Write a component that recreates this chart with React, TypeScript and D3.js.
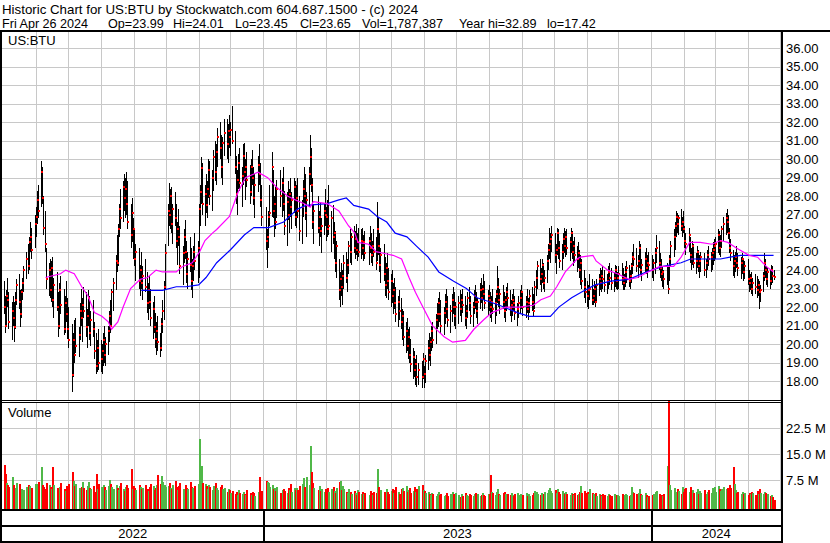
import * as d3 from "d3";

// [high, low, close] per trading day
const prices2022: number[][] = [
  // May
  [23.4,21.6,22.0],[22.6,20.6,21.0],[22.9,21.0,22.6],[23.6,22.0,22.4],[22.8,20.8,21.2],[22.3,20.2,21.8],[22.6,21.0,21.4],[22.3,20.1,20.9],[22.8,20.8,22.4],[23.5,22.1,23.2],[23.8,21.9,22.3],[22.9,20.9,21.6],[23.0,21.4,22.8],[23.6,22.4,23.3],[24.2,22.8,24.0],[25.0,23.5,24.6],[25.4,23.8,24.2],[25.8,24.0,25.5],[26.6,25.0,25.8],[26.3,24.6,25.1],[27.0,25.2,26.5],
  // Jun
  [27.4,25.8,26.9],[28.3,26.5,27.8],[28.6,26.8,27.2],[29.9,27.4,29.3],[29.6,27.6,27.9],[28.0,25.9,26.3],[27.2,25.0,25.4],[25.2,23.0,23.5],[24.4,22.6,24.0],[24.6,22.5,22.9],[24.5,22.3,24.1],[24.7,22.0,22.4],[23.6,21.4,23.2],[23.9,21.8,22.0],[22.8,20.4,21.0],[23.3,20.8,22.9],[23.7,21.6,22.1],[23.0,20.5,20.8],[22.6,20.6,22.2],[23.4,21.2,21.6],[22.5,20.3,20.8],
  // Jul
  [22.0,19.8,20.2],[21.1,17.4,18.3],[20.6,18.2,20.2],[21.3,19.0,19.4],[21.4,19.5,19.9],[20.9,19.3,20.5],[22.2,20.2,21.8],[23.0,21.0,21.4],[22.5,20.1,22.1],[23.1,21.4,21.8],[22.8,20.4,20.9],[21.9,19.8,21.5],[22.9,21.0,22.5],[22.6,20.2,20.6],[21.8,19.9,21.3],[22.4,20.4,20.8],[21.2,19.2,19.6],[20.6,18.4,18.8],[20.2,18.5,19.8],[20.8,18.6,19.0],
  // Aug
  [20.2,18.5,19.2],[20.0,18.4,19.6],[20.6,18.8,20.2],[21.0,19.0,19.4],[20.4,18.8,20.0],[21.0,19.4,20.7],[21.8,20.1,21.5],[22.4,20.6,21.0],[23.0,20.9,22.8],[23.6,21.8,23.3],[24.8,22.9,24.5],[25.9,23.9,24.4],[26.5,24.2,26.2],[27.6,25.8,27.3],[28.4,26.2,26.8],[28.8,26.6,28.5],[29.2,27.2,27.9],[29.0,26.8,28.4],[29.3,27.0,27.6],[28.8,26.2,26.6],[27.6,25.2,25.9],[27.9,25.5,27.1],[26.8,24.6,26.2],
  // Sep
  [26.2,24.2,24.6],[25.4,23.4,25.0],[25.2,23.0,23.4],[24.3,22.6,24.0],[25.0,23.0,23.3],[24.2,22.4,23.7],[24.6,22.8,23.1],[23.9,21.7,22.2],[23.3,21.3,22.9],[23.7,21.9,22.3],[23.0,21.0,21.4],[22.3,20.3,21.9],[22.6,20.6,20.9],[21.7,19.8,20.3],[21.2,19.4,20.7],[21.5,19.6,20.1],[20.6,19.3,19.8],[21.4,19.6,21.1],[22.4,20.6,21.8],[23.4,21.3,23.1],[25.4,23.0,24.9],
  // Oct
  [27.6,25.3,27.2],[28.7,26.4,27.0],[28.4,26.2,28.0],[28.5,26.0,26.5],[27.6,25.4,27.3],[28.2,26.4,26.8],[27.6,25.2,25.6],[26.6,24.3,26.2],[27.3,25.3,25.8],[26.4,23.8,24.2],[25.3,23.2,24.9],[26.2,24.4,25.8],[26.7,24.6,25.0],[25.6,23.3,23.8],[25.0,23.0,24.6],[25.8,23.9,24.3],[25.2,22.9,23.4],[24.6,22.5,24.2],[25.3,23.4,25.0],[26.0,24.0,24.5],[25.6,23.3,25.2],
  // Nov
  [27.6,23.6,27.3],[28.6,26.4,28.2],[30.1,27.6,29.5],[29.8,27.0,27.6],[28.6,26.4,28.1],[29.2,27.1,27.5],[28.8,26.8,28.4],[30.0,27.9,29.4],[29.9,27.5,28.0],[29.4,27.2,29.0],[30.5,28.3,30.1],[31.0,28.8,29.3],[30.8,28.6,30.4],[31.7,29.6,31.2],[32.0,30.0,30.6],[31.3,29.0,29.6],[31.2,28.6,30.9],[32.2,30.2,31.4],[32.2,30.0,30.8],[31.9,29.8,31.5],[32.4,30.6,31.2],
  // Dec
  [32.0,30.2,31.6],[32.9,30.8,31.0],[31.5,29.2,29.6],[30.2,27.6,28.1],[29.4,27.0,28.9],[30.3,28.4,29.8],[30.6,28.3,28.7],[29.6,27.4,29.1],[30.8,28.6,30.2],[30.9,28.8,29.3],[30.0,27.8,29.6],[30.4,28.5,28.9],[29.7,27.6,28.2],[30.0,28.0,29.6],[30.5,28.6,29.0],[29.6,27.5,27.9],[29.2,26.8,28.6],[30.2,28.2,29.7],[30.8,28.6,29.2],[29.8,27.4,27.8],[28.6,26.4,26.9],
];

const prices2023: number[][] = [
  // Jan
  [27.4,25.1,25.6],[26.2,24.1,25.8],[27.2,25.2,26.9],[28.6,26.4,27.1],[30.4,26.9,29.6],[29.4,26.8,27.2],[28.0,25.8,27.6],[28.5,26.2,26.6],[28.9,26.8,28.4],[29.4,27.4,28.0],[29.0,26.9,28.7],[29.6,27.2,27.6],[28.3,25.9,26.4],[28.2,25.3,27.7],[28.8,26.7,27.0],[28.4,26.0,28.1],[29.0,26.9,27.4],[28.2,26.2,27.8],[29.0,27.1,28.5],[28.8,26.4,26.9],
  // Feb
  [28.6,26.3,27.9],[29.0,26.8,27.2],[28.0,25.6,26.1],[27.8,25.4,27.4],[28.9,26.9,28.4],[29.6,27.6,28.0],[29.2,26.7,27.1],[28.2,25.8,27.8],[29.6,27.4,29.2],[31.3,28.6,30.1],[30.6,28.2,28.6],[29.0,26.2,26.6],[27.6,25.4,27.2],[28.0,26.0,26.3],[27.2,25.3,26.9],[27.7,25.8,26.1],[26.8,24.9,26.4],[27.6,25.9,27.2],[28.4,26.4,27.0],
  // Mar
  [27.4,25.6,26.9],[27.8,25.8,26.2],[28.6,25.9,26.4],[27.2,25.0,26.8],[27.5,25.4,25.8],[26.6,24.6,26.0],[26.1,23.9,24.4],[25.6,23.6,25.3],[24.6,22.4,22.9],[23.9,22.0,23.5],[24.4,22.6,23.1],[24.0,22.1,23.7],[24.8,23.0,24.4],[25.0,23.3,23.6],[24.6,22.8,24.3],[25.6,23.8,25.3],[26.2,24.4,25.0],[26.0,24.3,25.8],[26.4,24.9,25.2],[26.1,24.6,25.7],[26.5,24.8,25.1],[26.0,24.5,25.5],[26.3,24.7,25.0],
  // Apr
  [26.2,24.6,25.6],[26.3,24.8,25.2],[25.9,24.5,25.5],[26.1,24.6,24.9],[25.8,24.3,25.6],[26.4,24.9,25.2],[26.0,24.4,24.8],[25.6,24.2,25.3],[26.2,24.7,25.0],[25.8,24.0,24.4],[27.7,24.5,26.2],[26.8,24.8,25.3],[26.0,23.9,24.3],[25.2,23.3,24.8],[25.4,23.4,23.8],[24.7,22.6,23.2],[24.4,22.5,24.1],[24.9,23.0,23.4],[24.1,22.4,22.8],
  // May
  [23.8,22.0,23.4],[24.0,22.2,22.6],[23.3,21.6,22.9],[23.6,21.9,22.2],[23.1,21.2,21.6],[22.6,20.9,22.3],[22.9,21.3,21.8],[22.5,20.8,21.2],[21.9,20.2,21.5],[21.8,19.9,20.4],[21.2,19.5,20.7],[21.4,19.6,19.9],[20.8,19.2,20.4],[20.9,19.0,19.4],[20.3,18.5,18.9],[19.8,18.1,19.3],[19.6,18.2,18.6],[19.2,17.8,18.9],[19.4,17.7,18.2],[19.0,17.8,18.6],[19.1,17.6,18.2],[19.5,18.1,19.2],
  // Jun
  [18.8,17.6,18.4],[19.4,17.9,19.1],[20.2,18.6,19.8],[20.6,19.1,19.4],[20.4,18.8,20.1],[21.0,19.6,20.7],[21.2,19.8,20.2],[21.6,20.0,21.3],[22.2,20.8,21.6],[22.5,20.9,22.2],[22.8,21.2,21.6],[22.4,20.6,21.0],[22.0,20.5,21.7],[22.7,21.1,22.3],[23.0,21.4,21.9],[22.6,20.9,21.3],[22.1,20.6,21.8],[22.7,21.2,22.4],[23.1,21.6,22.0],[22.8,21.0,21.5],[22.3,20.8,22.0],
  // Jul
  [22.6,21.1,22.2],[22.9,21.5,21.9],[22.7,21.2,22.4],[23.0,21.7,22.1],[22.6,21.0,21.4],[22.1,20.8,21.8],[22.8,21.4,22.5],[23.1,21.8,22.2],[22.6,21.1,21.5],[22.3,20.9,22.0],[22.9,21.6,22.6],[23.2,21.9,22.3],[22.8,21.4,21.8],[22.5,21.1,22.3],[23.3,21.9,22.9],[23.6,22.2,22.5],[23.2,21.8,23.0],[23.8,22.4,22.7],[23.4,21.9,22.2],[22.9,21.5,22.6],
  // Aug
  [23.2,21.8,22.4],[22.8,21.4,22.0],[22.6,21.2,22.3],[23.0,21.6,21.9],[22.5,21.1,22.2],[22.9,21.5,22.7],[24.2,22.2,23.1],[23.6,22.0,22.4],[23.0,21.6,22.7],[23.2,21.9,22.3],[22.8,21.4,21.8],[22.6,21.2,22.4],[23.1,21.8,22.8],[23.3,22.0,22.5],[22.9,21.5,21.9],[22.4,21.2,22.1],[22.7,21.5,22.4],[23.0,21.8,22.2],[22.6,21.3,21.7],[22.2,21.0,21.9],[22.6,21.4,22.2],[22.9,21.6,22.5],[23.2,21.9,22.8],
  // Sep
  [22.8,21.5,22.0],[22.6,21.4,22.3],[23.0,21.7,21.9],[22.5,21.3,22.2],[22.9,21.7,22.6],[23.1,21.8,22.3],[22.7,21.5,21.8],[23.4,21.9,23.1],[24.0,22.6,23.6],[24.5,23.0,24.2],[24.6,23.2,23.5],[24.1,22.8,23.8],[24.6,23.3,24.3],[24.4,23.0,23.3],[24.0,22.8,23.6],[24.8,23.3,24.5],[25.4,24.0,25.1],[26.3,24.6,25.4],[26.0,24.4,25.7],[26.4,25.0,25.9],
  // Oct
  [26.0,24.4,24.8],[25.4,23.8,25.1],[26.3,24.8,26.0],[26.2,24.6,25.2],[25.6,24.1,24.5],[25.4,24.0,25.0],[26.0,24.6,25.7],[26.3,24.9,25.3],[26.1,24.7,25.8],[26.2,24.8,25.2],[25.8,24.5,25.5],[26.3,24.9,26.0],[26.1,24.6,25.0],[25.6,24.2,25.3],[25.8,24.4,24.8],[25.3,23.9,24.6],[25.5,24.1,24.9],[25.1,23.6,24.0],[24.8,23.2,24.4],[24.6,23.0,23.4],[24.0,22.5,23.1],[23.6,22.2,22.8],
  // Nov
  [23.4,22.0,22.6],[23.2,21.9,22.9],[23.8,22.4,23.0],[23.5,22.1,22.4],[23.0,22.1,22.6],[23.4,22.2,23.0],[23.2,22.0,22.3],[23.5,22.3,23.2],[23.8,22.6,23.5],[24.1,22.9,23.3],[24.0,22.8,23.7],[24.2,23.0,23.5],[24.0,22.8,23.2],[23.8,22.7,23.4],[24.2,23.0,23.9],[24.4,23.2,23.6],[24.1,22.9,23.3],[23.9,22.8,23.6],[24.3,23.1,24.0],[24.2,23.0,23.4],[23.9,22.9,23.6],
  // Dec
  [24.2,23.0,23.8],[24.4,23.2,23.5],[24.1,22.9,23.3],[23.8,22.9,23.6],[24.2,23.1,23.9],[24.5,23.3,24.1],[24.3,23.1,23.4],[24.0,23.0,23.7],[24.4,23.3,24.2],[25.0,23.8,24.7],[25.4,24.2,24.6],[25.2,23.9,24.2],[24.8,23.6,24.5],[25.6,24.1,25.2],[25.4,23.8,24.0],[24.6,23.4,24.3],[25.0,23.9,24.6],[25.2,23.8,24.1],[24.8,23.6,24.4],[25.0,23.9,24.3],
];

const prices2024: number[][] = [
  // Jan
  [24.8,23.6,24.0],[24.6,23.4,24.4],[25.2,23.8,24.9],[25.9,24.4,25.2],[25.6,24.0,24.4],[24.9,23.6,24.1],[24.6,23.4,23.8],[24.2,23.1,23.9],[24.0,23.0,23.5],[24.4,23.2,24.2],[24.3,22.7,23.0],[24.8,23.4,24.6],[25.6,24.2,25.3],[26.2,24.7,25.8],[26.6,25.1,26.4],[27.2,25.8,26.9],[27.1,26.0,26.5],[27.0,25.9,26.8],[27.3,26.1,26.4],[26.9,25.8,26.6],[27.2,26.0,26.2],
  // Feb
  [26.4,25.2,25.6],[26.0,24.8,25.4],[26.3,25.0,25.9],[25.8,24.4,24.8],[25.2,24.0,24.6],[25.6,24.3,25.3],[25.4,24.1,24.4],[24.9,23.8,24.5],[25.3,24.1,25.0],[25.1,23.9,24.2],[24.8,23.6,24.5],[25.0,23.9,24.7],[24.9,23.7,24.0],[24.6,23.6,24.4],[25.1,24.0,24.8],[25.3,24.2,24.6],[25.0,23.9,24.7],[25.2,24.0,24.9],[25.5,24.3,25.1],[25.7,24.5,25.3],
  // Mar
  [25.8,24.6,25.4],[26.2,24.9,25.9],[26.1,24.8,25.2],[25.9,24.7,25.6],[26.4,25.2,26.2],[26.9,25.6,26.5],[27.1,25.9,26.8],[27.3,26.0,26.6],[27.0,25.7,26.0],[26.3,24.9,25.2],[25.7,24.5,24.9],[25.1,23.7,24.2],[24.8,23.6,24.5],[25.0,23.9,24.7],[25.3,24.1,24.4],[24.9,23.7,24.1],[24.7,23.5,24.4],[24.9,23.8,24.6],[24.6,23.4,23.9],[24.5,23.5,24.2],
  // Apr
  [24.6,23.2,23.5],[24.0,22.8,23.3],[23.8,22.9,23.6],[23.9,22.7,23.0],[23.6,22.6,23.3],[23.8,22.7,23.1],[23.7,22.5,22.9],[23.5,22.6,23.2],[23.4,21.9,22.8],[23.2,22.3,22.9],[23.9,22.8,23.7],[24.9,23.4,24.4],[24.6,23.6,24.0],[24.2,23.2,23.5],[24.1,23.1,23.9],[24.0,23.0,23.4],[24.3,23.2,24.0],[24.2,23.3,23.7],[24.01,23.45,23.65],
];

// daily volume, millions of shares
const volume2022 = [
  12.0,9.2,6.8,6.2,5.4,8.3,6.0,4.8,5.2,6.6,6.5,4.4,5.0,3.9,4.6,5.5,6.1,5.8,4.7,5.1,6.3,
  5.8,6.4,7.0,11.4,6.2,5.5,4.9,6.8,6.0,5.4,4.8,11.4,6.1,5.2,4.5,5.6,6.6,5.0,4.4,5.9,5.3,
  6.3,10.0,7.2,5.8,6.4,5.1,4.7,5.5,6.9,5.2,4.6,5.9,7.0,5.3,4.8,5.7,4.2,9.4,5.0,6.4,
  5.6,4.9,6.2,5.4,4.6,5.9,7.6,6.3,5.5,4.8,6.0,5.3,4.7,5.8,6.7,5.0,4.4,5.6,6.1,5.2,10.6,4.9,5.7,
  5.1,4.5,6.0,5.6,4.8,5.3,6.2,5.0,4.3,5.5,6.4,5.8,4.7,5.2,6.0,9.0,6.3,8.8,7.1,6.2,5.4,
  5.9,6.6,5.2,4.8,6.1,7.3,5.5,4.6,5.8,6.8,5.0,4.5,6.2,5.3,4.9,6.9,5.6,5.1,4.4,5.8,6.3,
  19.4,8.6,11.7,6.8,6.4,5.7,4.9,6.2,5.4,4.7,5.8,6.6,5.1,4.5,5.6,6.0,4.8,5.3,4.2,5.0,4.6,
  3.8,4.4,3.5,4.0,3.2,4.6,3.9,3.4,4.2,3.6,3.1,4.5,3.8,3.3,4.1,3.7,3.0,4.0,8.3,3.5,4.3,
];
const volume2023 = [
  7.2,7.0,6.8,5.4,6.1,4.8,5.2,4.4,5.6,3.9,4.7,5.0,4.3,3.8,5.1,4.6,6.4,4.0,5.3,4.5,
  5.2,4.6,5.8,6.3,8.0,5.5,4.9,8.5,6.1,17.5,9.8,6.6,5.3,4.7,5.9,4.4,5.0,4.2,4.8,
  4.6,5.3,4.0,4.9,5.6,4.3,3.8,5.1,7.0,7.2,4.5,5.8,5.0,4.2,3.7,4.8,4.1,3.5,4.4,3.9,3.3,4.6,4.0,
  3.6,4.2,3.4,3.9,3.1,4.4,3.8,3.3,4.0,3.7,10.6,5.6,4.1,4.6,4.2,3.5,4.9,4.0,3.6,
  4.4,5.0,3.9,4.6,5.4,4.1,3.6,4.8,5.2,4.3,5.7,4.0,4.6,5.1,3.8,4.4,5.5,4.2,4.9,5.8,6.2,4.7,
  4.3,3.8,4.1,3.5,3.2,3.9,3.4,2.9,3.6,4.0,3.1,3.5,2.8,3.3,3.7,3.0,3.4,4.2,3.6,3.1,3.8,
  3.2,2.7,3.5,3.0,3.8,3.3,2.9,3.6,3.1,2.8,3.4,3.9,3.0,3.5,2.9,3.3,3.7,3.1,2.8,3.4,
  3.6,9.0,4.2,3.8,3.3,4.0,5.0,3.5,3.1,3.7,4.1,3.4,3.0,3.6,3.2,3.9,3.3,2.9,3.5,3.8,3.1,3.4,3.0,
  3.3,3.7,3.0,3.5,2.9,3.2,3.8,4.4,4.0,3.6,3.3,3.9,3.1,3.5,4.1,3.7,4.6,5.2,4.3,3.8,
  4.5,3.9,4.8,4.1,3.6,4.3,3.8,3.4,4.0,3.5,3.2,3.9,3.6,3.3,3.8,3.1,3.5,4.2,5.7,3.7,4.4,3.9,
  4.1,3.6,5.0,3.8,3.4,3.2,3.7,3.0,3.5,3.3,2.9,3.4,3.1,2.8,3.6,3.2,3.0,3.5,2.9,3.3,3.1,
  3.0,3.4,2.8,3.2,3.6,3.1,2.9,3.3,5.6,4.1,3.7,3.4,3.9,4.8,3.5,3.2,3.8,3.3,2.6,3.0,
];
const volume2024 = [
  3.2,3.6,4.0,4.4,3.5,3.0,3.3,2.9,3.4,11.7,30.7,6.0,4.6,5.2,4.1,3.8,4.9,4.3,3.6,5.5,4.0,
  4.8,5.3,4.2,5.6,3.9,4.5,3.7,4.1,5.0,3.6,4.4,3.8,4.7,3.5,4.0,4.6,3.9,5.1,4.3,5.4,
  4.2,5.7,4.9,4.4,5.0,5.6,4.8,5.3,4.6,6.2,5.1,11.4,6.3,4.5,3.9,4.2,3.6,4.0,3.4,3.8,
  3.3,3.9,3.5,4.1,3.7,3.2,4.4,3.6,4.9,3.8,3.4,4.2,3.7,3.1,3.5,2.9,3.3,2.7,1.8,
];

// moving averages as drawn: [bar index, value]
const maShort: number[][] = [
  [28,23.6],[37,23.8],[40,24.0],[45,23.8],[50,23.1],[54,22.6],[58,21.7],[63,21.5],[67,21.2],[70,20.8],[74,21.2],[77,22.0],[82,23.0],[88,23.5],[93,23.6],[99,24.0],[103,23.9],[112,23.9],[116,24.2],[123,24.4],[128,25.0],[131,25.6],[136,26.0],[140,26.2],[147,26.9],[153,28.2],[158,29.0],[165,29.3],[171,29.0],[177,28.5],[183,28.0],[188,27.8],[194,27.6],[198,27.4],[201,27.7],[209,27.6],[216,27.2],[223,26.4],[227,26.0],[230,25.5],[235,25.4],[240,25.0],[246,24.9],[252,24.8],[258,24.6],[263,23.6],[267,22.8],[271,22.0],[278,21.0],[284,20.4],[290,20.1],[297,20.2],[303,20.8],[310,21.3],[316,21.7],[325,22.0],[334,22.0],[342,22.1],[347,22.4],[354,22.6],[358,23.1],[364,23.9],[371,24.6],[374,24.7],[382,24.8],[385,24.5],[392,24.0],[398,23.8],[405,23.5],[411,23.6],[418,23.9],[424,24.2],[432,24.2],[437,24.7],[443,25.5],[451,25.5],[457,25.4],[463,25.6],[468,25.5],[474,25.2],[481,24.8],[487,24.7],[493,24.2],[498,23.9],
];
const maLong: number[][] = [
  [89,22.9],[103,22.9],[112,23.1],[119,23.1],[127,23.2],[132,23.6],[140,24.4],[148,25.1],[157,25.9],[164,26.3],[172,26.3],[181,26.6],[190,27.3],[196,27.5],[209,27.6],[216,27.8],[221,27.9],[226,27.5],[235,27.3],[241,26.9],[248,26.6],[254,26.0],[261,25.8],[268,25.3],[274,24.7],[282,23.9],[291,23.4],[298,23.0],[306,22.5],[313,22.3],[321,22.1],[332,21.7],[340,21.5],[354,21.5],[360,22.0],[368,22.5],[375,22.8],[384,23.2],[394,23.4],[405,23.5],[416,23.9],[427,24.2],[437,24.4],[444,24.6],[455,24.6],[463,24.6],[470,24.7],[476,24.8],[485,24.8],[498,24.8],
];

const holidays = [
  "2022-05-30","2022-06-20","2022-07-04","2022-09-05","2022-11-24","2022-12-26",
  "2023-01-02","2023-01-16","2023-02-20","2023-04-07","2023-05-29","2023-06-19","2023-07-04","2023-09-04","2023-11-23","2023-12-25",
  "2024-01-01","2024-01-15","2024-02-19","2024-03-29",
];

const priceTicks = [18,19,20,21,22,23,24,25,26,27,28,29,30,31,32,33,34,35,36];
const volumeTicks = [7.5, 15, 22.5];
const years = ["2022", "2023", "2024"];

const font = "'Liberation Sans', Arial, sans-serif";
const gridColor = "#c8c8c8";

function tradingDays(): Date[] {
  const fmt = d3.timeFormat("%Y-%m-%d");
  const hol = new Set(holidays);
  const out: Date[] = [];
  const d = new Date(2022, 4, 2);
  const end = new Date(2024, 3, 26);
  while (d <= end) {
    const wd = d.getDay();
    if (wd !== 0 && wd !== 6 && !hol.has(fmt(d))) out.push(new Date(d));
    d.setDate(d.getDate() + 1);
  }
  return out;
}

export default function App() {
  const left = 2, right = 781;
  const priceTop = 32, priceBottom = 400;
  const volTop = 403, volBottom = 509;

  const dates = tradingDays();
  const prices = [...prices2022, ...prices2023, ...prices2024];
  const volumes = [...volume2022, ...volume2023, ...volume2024];
  const n = Math.min(dates.length, prices.length, volumes.length);

  const x = d3.scaleTime().domain([new Date(2022, 3, 30), new Date(2024, 4, 2)]).range([left, right]);
  const y = d3.scaleLinear().domain([17, 36]).range([399.5, 48.3]);
  const yv = d3.scaleLinear().domain([0, 30]).range([506, 402.6]);

  const months = d3.timeMonth.range(new Date(2022, 4, 2), new Date(2024, 4, 2));
  const yearBounds = [x.range()[0], x(new Date(2023, 0, 1)), x(new Date(2024, 0, 1)), right];

  const bx = (i: number) => Math.round(x(dates[i]));

  const line = d3
    .line<number[]>()
    .x((d) => x(dates[d[0]]))
    .y((d) => y(d[1]));

  const volColor = (i: number) => {
    if (i === 0) return "#ff0000";
    const diff = prices[i][2] - prices[i - 1][2];
    if (Math.abs(diff) < 0.001) return "#a0a0a0";
    return diff > 0 ? "#50b848" : "#ff0000";
  };

  return (
    <svg
      width={830}
      height={543}
      style={{ position: "fixed", left: 0, top: 0, display: "block", background: "#fff" }}
      fontFamily={font}
    >
      <rect x={0} y={0} width={830} height={543} fill="#fff" />

      {/* header */}
      <text x={2} y={13.5} fontSize={13.3} fill="#000">
        Historic Chart for US:BTU by Stockwatch.com 604.687.1500 - (c) 2024
      </text>
      <g fontSize={12.6} fill="#000">
        <text x={2} y={28}>Fri Apr 26 2024</text>
        <text x={108} y={28}>Op=23.99</text>
        <text x={173} y={28}>Hi=24.01</text>
        <text x={235} y={28}>Lo=23.45</text>
        <text x={300} y={28}>Cl=23.65</text>
        <text x={362} y={28}>Vol=1,787,387</text>
        <text x={459} y={28}>Year hi=32.89</text>
        <text x={547} y={28}>lo=17.42</text>
      </g>

      {/* grid */}
      <g stroke={gridColor} strokeWidth={1} shapeRendering="crispEdges">
        {priceTicks.map((p) => (
          <line key={"p" + p} x1={left} x2={right} y1={Math.round(y(p)) + 0.5} y2={Math.round(y(p)) + 0.5} />
        ))}
        {volumeTicks.map((v) => (
          <line key={"v" + v} x1={left} x2={right} y1={Math.round(yv(v)) + 0.5} y2={Math.round(yv(v)) + 0.5} />
        ))}
        {months.map((m) => {
          const mx = Math.round(x(m)) + 0.5;
          return (
            <g key={m.getTime()}>
              <line x1={mx} x2={mx} y1={priceTop} y2={priceBottom} />
              <line x1={mx} x2={mx} y1={volTop} y2={volBottom} />
            </g>
          );
        })}
      </g>

      {/* price bars: high-low line with a red close mark */}
      <g shapeRendering="crispEdges">
        {d3.range(n).map((i) => {
          const [hi, lo] = prices[i];
          const top = Math.round(y(hi));
          const bot = Math.round(y(lo));
          return <rect key={i} x={bx(i)} y={top} width={1} height={Math.max(1, bot - top)} fill="#000" />;
        })}
        {d3.range(n).map((i) => (
          <rect key={"c" + i} x={bx(i)} y={Math.round(y(prices[i][2])) - 1} width={2} height={2} fill="#ff0000" />
        ))}
      </g>

      {/* moving averages */}
      <path d={line(maLong) || ""} fill="none" stroke="#0000ff" strokeWidth={1.2} />
      <path d={line(maShort) || ""} fill="none" stroke="#ff00ff" strokeWidth={1.2} />

      {/* volume bars */}
      <g shapeRendering="crispEdges">
        {d3.range(n).map((i) => {
          const top = Math.round(yv(volumes[i]));
          return <rect key={i} x={bx(i)} y={top} width={2} height={volBottom - top} fill={volColor(i)} />;
        })}
      </g>

      {/* frame */}
      <g fill="#000" shapeRendering="crispEdges">
        <rect x={0} y={30} width={830} height={2} />
        <rect x={0} y={30} width={2} height={513} />
        <rect x={right} y={30} width={2} height={512} />
        <rect x={0} y={400} width={right} height={1} />
        <rect x={0} y={402} width={right} height={1} />
        <rect x={0} y={509} width={right} height={2} />
        <rect x={0} y={525} width={right} height={2} />
        <rect x={0} y={541} width={right + 2} height={2} />
        {yearBounds.slice(1, 3).map((b, k) => (
          <rect key={k} x={Math.round(b)} y={511} width={1.5} height={30} />
        ))}
      </g>

      {/* labels */}
      <text x={8} y={45} fontSize={13} fill="#000">US:BTU</text>
      <text x={8} y={417} fontSize={13} fill="#000">Volume</text>
      <g fontSize={13} fill="#000">
        {priceTicks.map((p) => (
          <text key={p} x={786} y={y(p) + 4.5}>{p.toFixed(2)}</text>
        ))}
        {volumeTicks.map((v) => (
          <text key={v} x={786} y={yv(v) + 4.5}>{v.toFixed(1) + " M"}</text>
        ))}
        {years.map((yr, k) => (
          <text key={yr} x={(yearBounds[k] + yearBounds[k + 1]) / 2} y={538} textAnchor="middle">{yr}</text>
        ))}
      </g>
    </svg>
  );
}
